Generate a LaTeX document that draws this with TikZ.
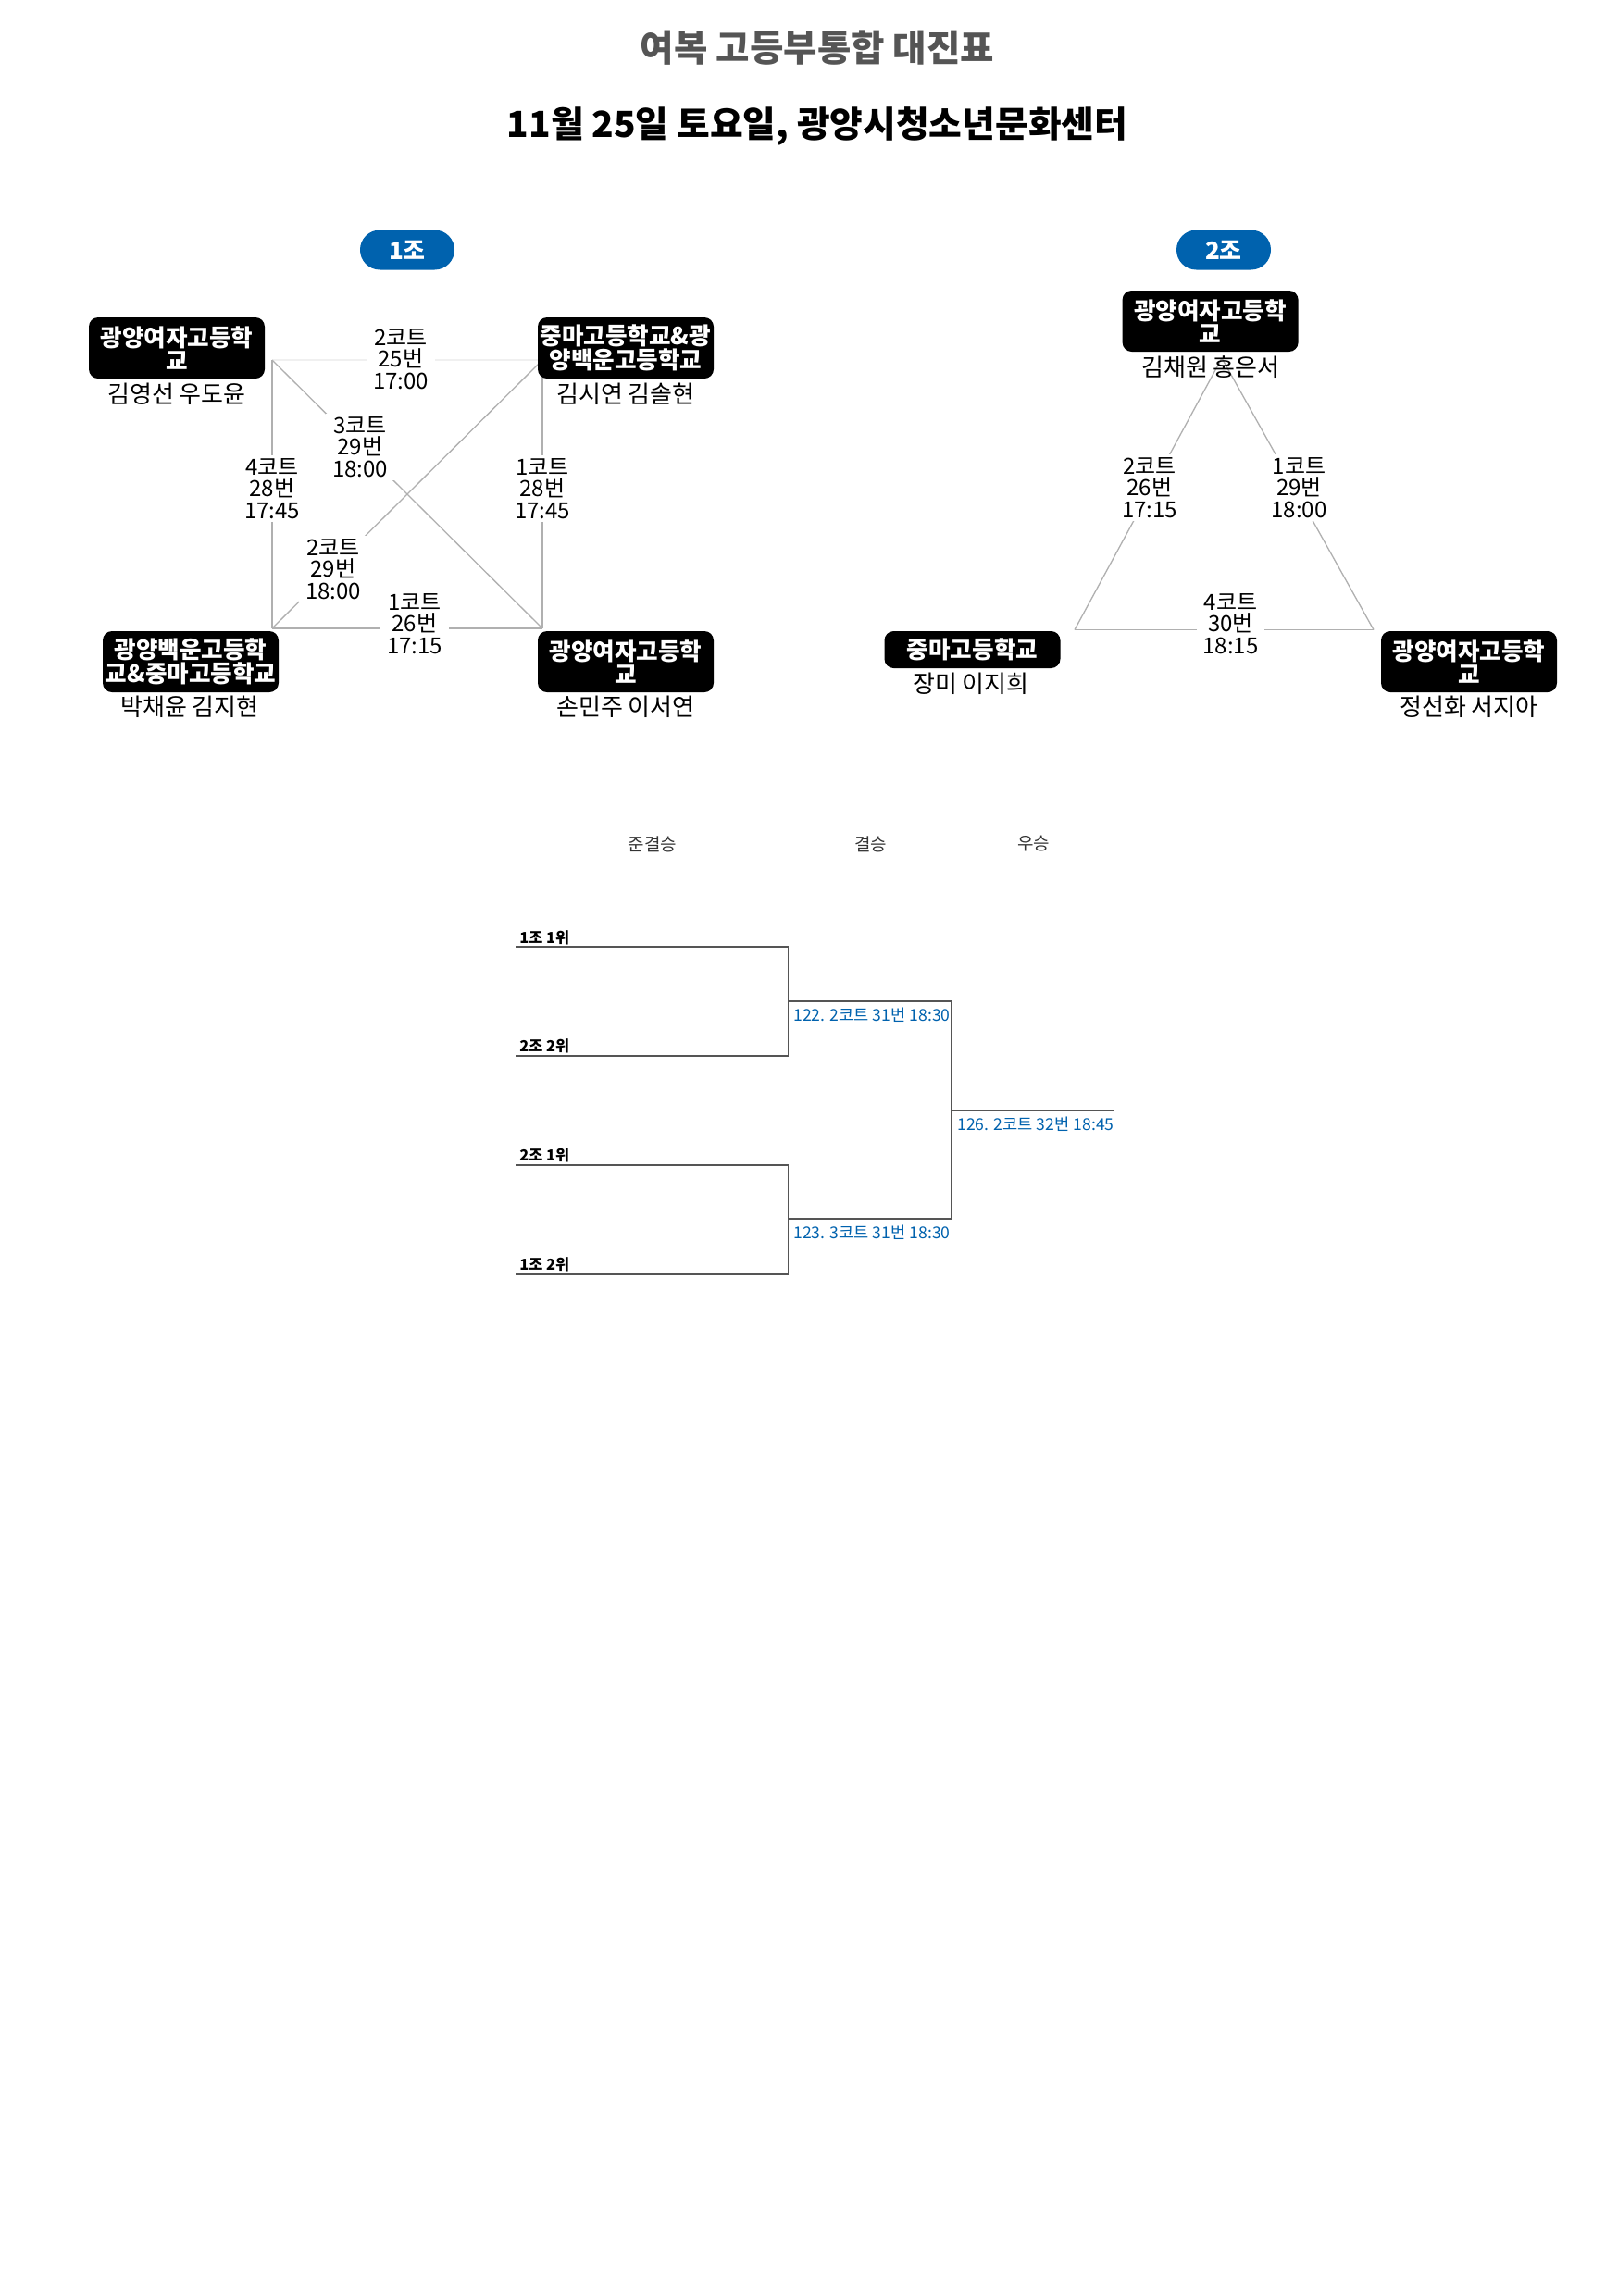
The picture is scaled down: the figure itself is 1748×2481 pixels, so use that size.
\documentclass[tikz,border=0pt]{standalone}
\usepackage{fontspec}
\setmainfont{Noto Sans CJK KR}
\definecolor{pillblue}{HTML}{0062AE}
\definecolor{titlegray}{HTML}{555555}
\definecolor{edgegray}{HTML}{B0B0B0}
\definecolor{faintgray}{HTML}{F0F0F0}
\definecolor{brgray}{HTML}{555555}
\begin{document}
\begin{tikzpicture}[x=0.5pt,y=-0.5pt,
  school/.style={fill=black, text=white, rounded corners=5pt, font=\fontsize{12.8}{12.7}\selectfont\bfseries, align=center, inner sep=0pt, minimum width=95pt, minimum height=33pt},
  schoolone/.style={school, minimum height=20pt},
  player/.style={font=\fontsize{13}{14}\selectfont, text=black, inner sep=0pt},
  match/.style={fill=white, font=\fontsize{12}{11.65}\selectfont, align=center, inner xsep=3.5pt, inner ysep=2pt},
  pill/.style={fill=pillblue, text=white, rounded corners=10.7pt, minimum width=51pt, minimum height=21.5pt, inner sep=0pt, font=\fontsize{13}{13}\selectfont\bfseries},
  edge/.style={draw=edgegray, line width=0.65pt},
  faintedge/.style={draw=faintgray, line width=0.65pt},
  bline/.style={draw=brgray, line width=0.9pt},
  rhead/.style={font=\fontsize{9.5}{10}\selectfont, text=black!80},
  slot/.style={font=\fontsize{8.2}{9}\selectfont\bfseries, anchor=west, inner sep=0pt},
  minfo/.style={font=\fontsize{8.8}{10}\selectfont, text=pillblue, anchor=west, inner sep=0pt},
  titlestyle/.style={font=\fontsize{19.8}{22}\selectfont\bfseries, text=titlegray},
  subtitlestyle/.style={font=\fontsize{19.4}{22}\selectfont\bfseries, text=black}
]
\useasboundingbox[fill=white] (0,0) rectangle (1748,2481);

% titles
\node[titlestyle] (title) at (883,52) {여복 고등부통합 대진표};
\node[subtitlestyle] (subtitle) at (883,136) {11월 25일 토요일, 광양시청소년문화센터};

% ---------- group 1 ----------
\node[pill] (pill1) at (440,270) {1조};
\coordinate (g1a) at (294,389);
\coordinate (g1b) at (586,389);
\coordinate (g1c) at (294,679);
\coordinate (g1d) at (586,679);
\draw[faintedge] (g1a) -- (g1b);
\draw[edge] (g1a) -- (g1c);
\draw[edge] (g1b) -- (g1d);
\draw[edge] (g1c) -- (g1d);
\draw[edge] (g1a) -- (g1d);
\draw[edge] (g1b) -- (g1c);

\node[match] (m1) at (433,388) {2코트\\25번\\17:00};
\node[match] (m2) at (389,483) {3코트\\29번\\18:00};
\node[match] (m3) at (294,528) {4코트\\28번\\17:45};
\node[match] (m4) at (586,528) {1코트\\28번\\17:45};
\node[match] (m5) at (360,615) {2코트\\29번\\18:00};
\node[match] (m6) at (448,674) {1코트\\26번\\17:15};

\node[school] (s1a) at (191,376) {광양여자고등학\\교};
\node[player] (p1a) at (191,426) {김영선 우도윤};
\node[school] (s1b) at (676,376) {\makebox[0pt]{중마고등학교\&광}\\\makebox[0pt]{양백운고등학교}};
\node[player] (p1b) at (676,426) {김시연 김솔현};
\node[school] (s1c) at (206,715) {\makebox[0pt]{광양백운고등학}\\\makebox[0pt]{교\&중마고등학교}};
\node[player] (p1c) at (205,764) {박채윤 김지현};
\node[school] (s1d) at (676,715) {광양여자고등학\\교};
\node[player] (p1d) at (676,764) {손민주 이서연};

% ---------- group 2 ----------
\node[pill] (pill2) at (1322,270) {2조};
\coordinate (g2a) at (1320,387);
\coordinate (g2b) at (1161,680.5);
\coordinate (g2c) at (1484,680.5);
\draw[edge] (g2a) -- (g2b);
\draw[edge] (g2a) -- (g2c);
\draw[edge] (g2b) -- (g2c);

\node[match] (n1) at (1242,527) {2코트\\26번\\17:15};
\node[match] (n2) at (1403.6,527) {1코트\\29번\\18:00};
\node[match] (n3) at (1329.5,674) {4코트\\30번\\18:15};

\node[school] (s2a) at (1307.6,347) {광양여자고등학\\교};
\node[player] (p2a) at (1308,397) {김채원 홍은서};
\node[schoolone] (s2b) at (1050.5,702) {중마고등학교};
\node[player] (p2b) at (1049,739) {장미 이지희};
\node[school] (s2c) at (1587,715) {광양여자고등학\\교};
\node[player] (p2c) at (1587,764) {정선화 서지아};

% ---------- bracket ----------
\node[rhead] (h1) at (705,912) {준결승};
\node[rhead] (h2) at (940.7,912) {결승};
\node[rhead] (h3) at (1116.7,912) {우승};

\coordinate (sl1) at (557,1023);
\coordinate (sr1) at (851.5,1023);
\coordinate (sl2) at (557,1141);
\coordinate (sr2) at (851.5,1141);
\coordinate (sl3) at (557,1259);
\coordinate (sr3) at (851.5,1259);
\coordinate (sl4) at (557,1377);
\coordinate (sr4) at (851.5,1377);
\coordinate (j1) at (851.5,1082);
\coordinate (f1) at (1027.5,1082);
\coordinate (j2) at (851.5,1317);
\coordinate (f2) at (1027.5,1317);
\coordinate (fm) at (1027.5,1200);
\coordinate (fe) at (1204,1200);

\draw[bline] (sl1) -- (sr1) -- (sr2) -- (sl2);
\draw[bline] (sl3) -- (sr3) -- (sr4) -- (sl4);
\draw[bline] (j1) -- (f1) -- (f2) -- (j2);
\draw[bline] (fm) -- (fe);

\node[slot] (t1) at (561,1013) {1조 1위};
\node[slot] (t2) at (561,1130) {2조 2위};
\node[slot] (t3) at (561,1248) {2조 1위};
\node[slot] (t4) at (561,1366.5) {1조 2위};

\node[minfo] (i1) at (857,1097) {122. 2코트 31번 18:30};
\node[minfo] (i2) at (857,1332) {123. 3코트 31번 18:30};
\node[minfo] (i3) at (1034,1214.5) {126. 2코트 32번 18:45};
\end{tikzpicture}
\end{document}
